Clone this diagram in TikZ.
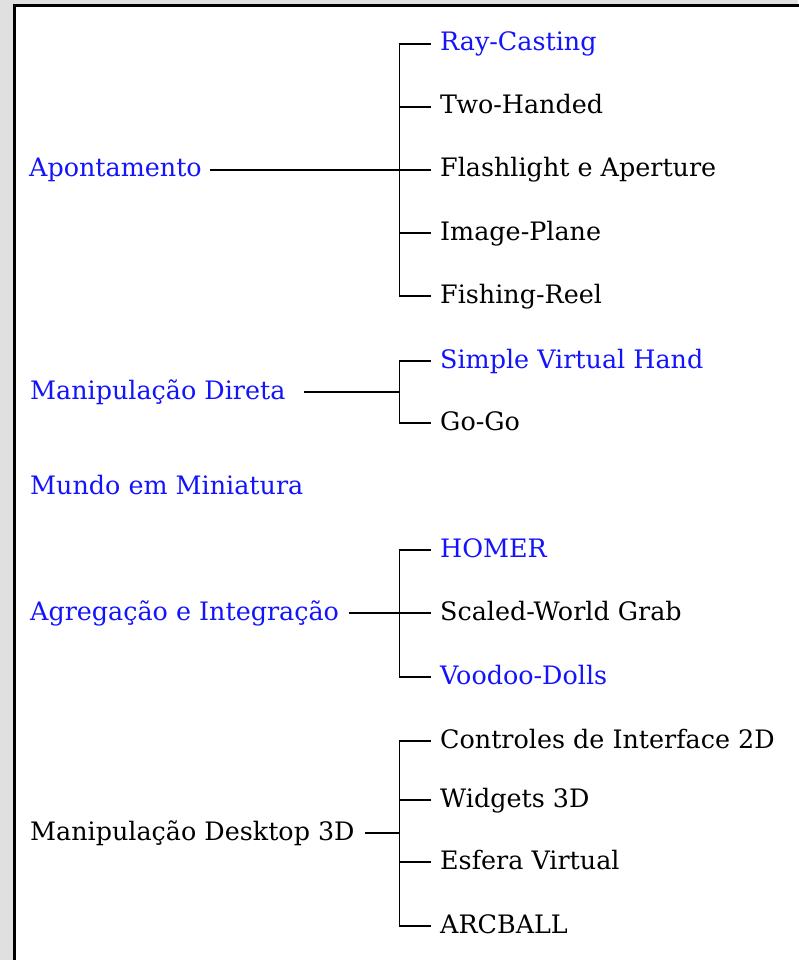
\documentclass[tikz,border=0pt]{standalone}
\usepackage{fontspec}
\setmainfont{DejaVu Serif}
\definecolor{lnk}{RGB}{20,20,252}
\definecolor{bgc}{RGB}{224,224,224}
\newcommand{\fsz}{\fontsize{25.4}{30}\selectfont}
\begin{document}
\begin{tikzpicture}[x=1pt,y=-1pt,
  tree/.style={line width=1.3pt, black},
  leaf/.style={anchor=west, inner xsep=9pt, inner ysep=0pt, text height=18pt, text depth=4pt, font=\fsz},
  root/.style={anchor=west, inner xsep=0pt, inner ysep=0pt, text height=18pt, text depth=4pt, font=\fsz},
  hl/.style={text=lnk}]
\useasboundingbox (0,0) rectangle (798,960);
\fill[bgc] (0,0) rectangle (798,960);
\fill[white] (14.7,5.3) rectangle (800,962);
\draw[line width=2.8pt] (14.7,962) -- (14.7,5.3) -- (800,5.3);

% group 1
\node[leaf,hl] (c1) at (431,44) {Ray-Casting};
\node[leaf] (c2) at (431,107) {Two-Handed};
\node[leaf] (c3) at (431,170) {Flashlight e Aperture};
\node[leaf] (c4) at (431,233) {Image-Plane};
\node[leaf] (c5) at (431,296) {Fishing-Reel};
\node[root,hl] (p1) at (29,170) {Apontamento};
\coordinate (t1) at (399.5,44);
\coordinate (t5) at (399.5,296);
\draw[tree] (c1.west) -- (t1) -- (t5) -- (c5.west);
\draw[tree] (c2.west) -- (c2.west -| t1);
\draw[tree] (c4.west) -- (c4.west -| t1);
\draw[tree] ([xshift=8pt]p1.east) -- (c3.west);

% group 2
\node[leaf,hl] (c6) at (431,361) {Simple Virtual Hand};
\node[leaf] (c7) at (431,423) {Go-Go};
\node[root,hl] (p2) at (30,392) {Manipulação Direta};
\coordinate (t6) at (399.5,361);
\coordinate (t7) at (399.5,423);
\draw[tree] (c6.west) -- (t6) -- (t7) -- (c7.west);
\draw[tree] ([xshift=18pt]p2.east) -- (p2.west -| t6);

% group 3
\node[root,hl] (p3) at (30,487) {Mundo em Miniatura};

% group 4
\node[leaf,hl] (c8) at (431,550) {HOMER};
\node[leaf] (c9) at (431,613) {Scaled-World Grab};
\node[leaf,hl] (c10) at (431,677) {Voodoo-Dolls};
\node[root,hl] (p4) at (30,613) {Agregação e Integração};
\coordinate (t8) at (399.5,550);
\coordinate (t10) at (399.5,677);
\draw[tree] (c8.west) -- (t8) -- (t10) -- (c10.west);
\draw[tree] ([xshift=10pt]p4.east) -- (c9.west);

% group 5
\node[leaf] (c11) at (431,741) {Controles de Interface 2D};
\node[leaf] (c12) at (431,800) {Widgets 3D};
\node[leaf] (c13) at (431,862) {Esfera Virtual};
\node[leaf] (c14) at (431,926) {ARCBALL};
\node[root] (p5) at (30,833) {Manipulação Desktop 3D};
\coordinate (t11) at (399.5,741);
\coordinate (t14) at (399.5,926);
\draw[tree] (c11.west) -- (t11) -- (t14) -- (c14.west);
\draw[tree] (c12.west) -- (c12.west -| t11);
\draw[tree] (c13.west) -- (c13.west -| t11);
\draw[tree] ([xshift=10pt]p5.east) -- (p5.west -| t11);
\end{tikzpicture}
\end{document}
